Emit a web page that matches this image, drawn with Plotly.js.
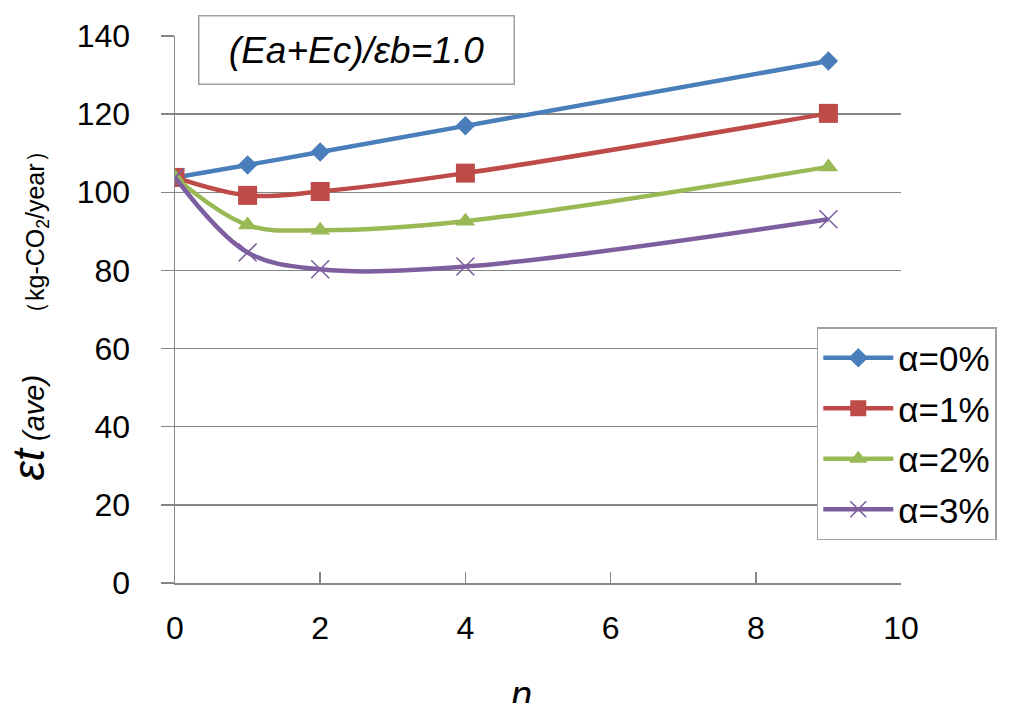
<!DOCTYPE html>
<html>
<head>
<meta charset="utf-8">
<script src="https://cdn.plot.ly/plotly-3.0.1.min.js"></script>
<style>html,body{margin:0;padding:0;background:#fff;}#chart{width:1024px;height:703px;}</style>
</head>
<body>
<div id="chart"></div>
<script>
var nValues = [0, 1, 2, 4, 9];
var alpha0 = [103.8, 107.0, 110.3, 117.0, 133.6];
var alpha1 = [103.8, 99.2, 100.2, 104.9, 120.2];
var alpha2 = [103.8, 91.6, 90.3, 92.6, 106.5];
var alpha3 = [103.8, 84.6, 80.3, 81.0, 93.1];
var seriesNames = ['α=0%', 'α=1%', 'α=2%', 'α=3%'];
var xTicks = [0, 2, 4, 6, 8, 10];
var yTicks = [0, 20, 40, 60, 80, 100, 120, 140];

var colors = ['#4A7EBB', '#BE4B48', '#98B954', '#7D5FA0'];
var symbols = ['diamond', 'square', 'triangle-up', 'x-thin-open'];
var sizes = [15, 19, 17, 18];
var data = [alpha0, alpha1, alpha2, alpha3];

var traces = data.map(function (ys, i) {
  return {
    x: nValues, y: ys, name: seriesNames[i], type: 'scatter', mode: 'lines+markers',
    legendgroup: 'g' + i,
    line: {color: colors[i], width: 4.5, shape: 'spline', smoothing: 1},
    marker: {symbol: symbols[i], size: sizes[i], color: colors[i],
             line: {color: colors[i], width: i === 3 ? 1.6 : 0}}
  };
});

var font = 'Liberation Sans, Arial, sans-serif';
var layout = {
  width: 1024, height: 703,
  margin: {l: 175, r: 123, t: 36, b: 120, pad: 0},
  paper_bgcolor: '#fff', plot_bgcolor: '#fff',
  font: {family: font, color: '#000'},
  showlegend: true,
  legend: {
    x: 0.884, y: 0.468, xanchor: 'left', yanchor: 'top',
    bgcolor: '#fff', bordercolor: '#A0A0A0', borderwidth: 1.5,
    font: {family: font, size: 35, color: '#000'},
    tracegroupgap: 2, itemwidth: 70
  },
  xaxis: {
    range: [0, 10], tickvals: xTicks, ticktext: xTicks.map(String),
    showgrid: false, zeroline: false,
    showline: true, linecolor: '#868686', linewidth: 1.5,
    ticks: 'inside', ticklen: 11, tickcolor: '#868686', tickwidth: 1.5,
    tickfont: {family: font, size: 32, color: '#000'},
    ticklabelstandoff: 16
  },
  yaxis: {
    range: [0, 140], tickvals: yTicks, ticktext: yTicks.map(String),
    showgrid: true, gridcolor: '#868686', gridwidth: 1.5, zeroline: false,
    showline: true, linecolor: '#868686', linewidth: 1.5,
    ticks: 'outside', ticklen: 13, tickcolor: '#868686', tickwidth: 1.5,
    tickfont: {family: font, size: 32, color: '#000'},
    ticklabelstandoff: 24,
    title: {
      text: '<i>εt</i><span style="font-size:29px"><i> (ave)</i></span>    <span style="font-size:25px">（kg-CO<sub>2</sub>/year）</span>',
      font: {family: font, size: 44, color: '#000'}, standoff: 18
    }
  },
  annotations: [{
    xref: 'paper', yref: 'paper', x: 0.0317, y: 1.038, xanchor: 'left', yanchor: 'top',
    text: '<i>(Ea+Ec)/εb=1.0</i>', showarrow: false,
    font: {family: font, size: 37, color: '#000'},
    bgcolor: '#fff', bordercolor: '#A0A0A0', borderwidth: 1.5, borderpad: 0,
    width: 314, height: 67, align: 'center', valign: 'middle'
  }, {
    xref: 'paper', yref: 'paper', x: 0.477, y: -0.163, xanchor: 'center', yanchor: 'top',
    text: '<i>n</i>', showarrow: false,
    font: {family: font, size: 38, color: '#000'}
  }]
};

Plotly.newPlot('chart', traces, layout, {displayModeBar: false, staticPlot: true});
</script>
</body>
</html>
